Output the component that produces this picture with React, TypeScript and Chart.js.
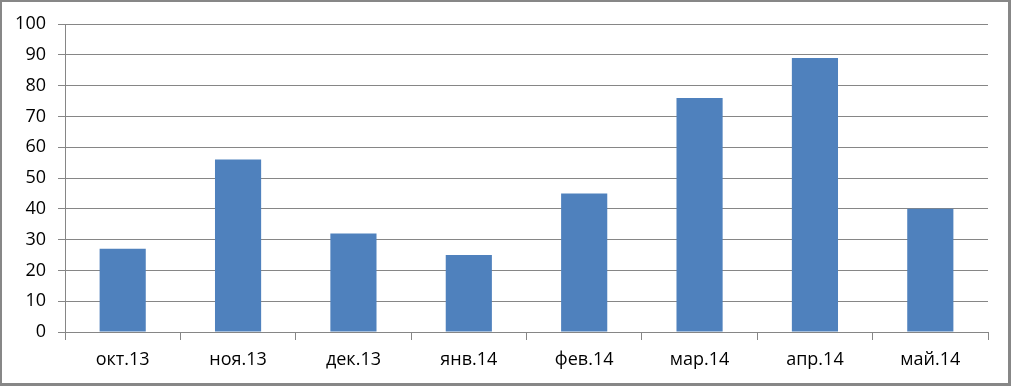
import React, { useEffect, useRef } from "react";
import { Chart, registerables } from "chart.js";

Chart.register(...registerables);

const categories = ["окт.13", "ноя.13", "дек.13", "янв.14", "фев.14", "мар.14", "апр.14", "май.14"];
const values = [27, 56, 32, 25, 45, 76, 89, 40];
const yMin = 0;
const yMax = 100;
const yStep = 10;

const GRID = "#868686";
const FONT = "'Open Sans', 'Noto Sans', sans-serif";

const frame = {
  id: "frame",
  beforeDraw(chart: any) {
    const { ctx, width, height } = chart;
    ctx.save();
    ctx.fillStyle = "#ffffff";
    ctx.fillRect(0, 0, width, height);
    ctx.fillStyle = "#878787";
    ctx.fillRect(0, 0, width, 2);
    ctx.fillRect(0, 0, 2, height);
    ctx.fillRect(width - 3, 0, 3, height);
    ctx.fillRect(0, height - 3, width, 3);
    ctx.restore();
  },
};

export default function App() {
  const ref = useRef<HTMLCanvasElement | null>(null);
  useEffect(() => {
    document.body.style.margin = "0";
    const chart = new Chart(ref.current!, {
      type: "bar",
      data: {
        labels: categories,
        datasets: [
          {
            data: values,
            backgroundColor: "#4F81BD",
            borderWidth: 0,
            barPercentage: 0.4,
            categoryPercentage: 1,
          },
        ],
      },
      options: {
        animation: false,
        responsive: false,
        devicePixelRatio: 1,
        layout: { padding: { top: 24, right: 23, left: 0, bottom: 0 } },
        plugins: { legend: { display: false }, tooltip: { enabled: false } },
        scales: {
          x: {
            grid: { drawOnChartArea: false, drawTicks: true, tickLength: 8, color: GRID, offset: true },
            border: { color: GRID },
            ticks: { color: "#000", font: { family: FONT, size: 18 }, padding: 9, maxRotation: 0 },
            afterFit: (s: any) => { s.height = 54; },
          },
          y: {
            min: yMin,
            max: yMax,
            grid: { color: GRID, tickLength: 7, drawTicks: true },
            border: { color: GRID },
            ticks: { stepSize: yStep, color: "#000", font: { family: FONT, size: 18 }, padding: 12 },
            afterFit: (s: any) => { s.width = 65; },
          },
        },
      },
      plugins: [frame],
    });
    return () => chart.destroy();
  }, []);
  return (
    <div style={{ position: "absolute", left: 0, top: 0, width: 1011, height: 386 }}>
      <canvas ref={ref} width={1011} height={386} style={{ width: 1011, height: 386, display: "block" }} />
    </div>
  );
}
